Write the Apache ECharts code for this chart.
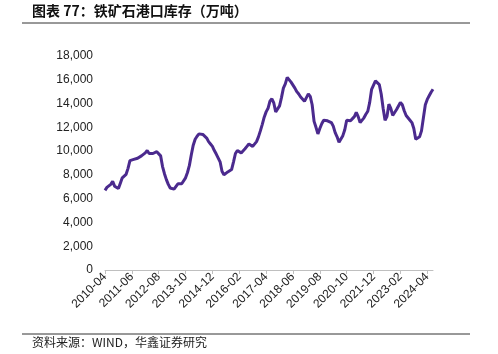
<!DOCTYPE html>
<html>
<head>
<meta charset="utf-8">
<script src="https://cdn.jsdelivr.net/npm/echarts@6/dist/echarts.min.js"></script>
<style>
  html, body { margin: 0; padding: 0; background: #fff; }
  #chart { width: 498px; height: 354px; }
</style>
</head>
<body>
<div id="chart"></div>
<script>
// monthly port stock of iron ore, 2010-04 .. 2024-07 (万吨)
const startYear = 2010
const startMonth = 4
const stock = [
  6700, 6950, 7050, 7200, 7450, 7050, 7150, 6850, 7300, 7750,
  7850, 8050, 8550, 9200, 9350, 9300, 9450, 9400, 9250, 9600,
  9700, 9850, 10050, 9800, 9700, 9800, 9900, 9950, 9830, 9600,
  8700, 8100, 7600, 7200, 6900, 6750, 6800, 6950, 7250, 7300,
  7250, 7400, 7750, 8200, 8800, 9700, 10500, 11000, 11250, 11450,
  11600, 11400, 11450, 11100, 10800, 10600, 10400, 10050, 9750, 9650,
  9100, 8300, 8000, 8150, 8250, 8200, 8450, 9100, 9800, 10050,
  9900, 9850, 9950, 10200, 10400, 10600, 10500, 10400, 10350, 10800,
  11200, 11700, 12250, 12850, 13300, 13600, 14200, 14400, 14050, 13300,
  13450, 13800, 14500, 15300, 15650, 16200, 16100, 15800, 15900, 15300,
  15000, 14800, 14550, 14400, 14200, 14500, 14800, 14600, 13900, 12500,
  12000, 11450, 11900, 12300, 12600, 12700, 12550, 12600, 12400, 12100,
  11550, 11200, 10750, 10900, 11300, 11800, 12600, 12650, 12550, 12650,
  12900, 13250, 12900, 12400, 12250, 12800, 13100, 13350, 14100, 15200,
  15550, 15900, 16000, 15600, 14800, 13600, 12600, 12900, 13950, 13600,
  13000, 13100, 13500, 13800, 14100, 13900, 13400, 13000, 12850, 12600,
  12400, 11900, 11000, 10950, 11200, 11700, 12800, 13900, 14350, 14650,
  14950, 15200
]
const labelStep = 14
const yTicks = [0, 2000, 4000, 6000, 8000, 10000, 12000, 14000, 16000, 18000]

const months = stock.map((_, i) => {
  const t = (startMonth - 1) + i
  const y = startYear + Math.floor(t / 12)
  const m = (t % 12) + 1
  return y + '-' + String(m).padStart(2, '0')
})

const chart = echarts.init(document.getElementById('chart'))

chart.setOption({
  animation: false,
  grid: { left: 105, right: 65, top: 56, bottom: 84 },
  xAxis: {
    type: 'category',
    data: months,
    boundaryGap: false,
    axisLine: { lineStyle: { color: '#bfbfbf', width: 1 } },
    axisTick: { interval: labelStep - 1, length: 4, lineStyle: { color: '#bfbfbf' } },
    axisLabel: {
      interval: labelStep - 1,
      rotate: 45,
      margin: 5,
      color: '#222',
      fontSize: 12,
      fontFamily: 'Liberation Sans'
    },
    splitLine: { show: false }
  },
  yAxis: {
    type: 'value',
    min: yTicks[0],
    max: yTicks[yTicks.length - 1],
    interval: 2000,
    axisLine: { show: false },
    axisTick: { show: false },
    splitLine: { show: false },
    axisLabel: {
      margin: 12,
      color: '#222',
      fontSize: 12,
      fontFamily: 'Liberation Sans',
      formatter: v => v.toLocaleString('en-US')
    }
  },
  series: [{
    type: 'line',
    data: stock,
    showSymbol: false,
    smooth: false,
    lineStyle: { color: '#4b2a8e', width: 3 },
    itemStyle: { color: '#4b2a8e' }
  }],
  graphic: [
    {
      type: 'text', left: 32, top: 4,
      style: {
        text: '图表 77：铁矿石港口库存（万吨）',
        font: 'bold 14px "Noto Sans CJK SC"',
        fill: '#111'
      }
    },
    {
      type: 'line', shape: { x1: 22, y1: 23, x2: 470, y2: 23 },
      style: { stroke: '#333', lineWidth: 1 }
    },
    {
      type: 'line', shape: { x1: 22, y1: 334, x2: 470, y2: 334 },
      style: { stroke: '#333', lineWidth: 1 }
    },
    {
      type: 'text', left: 32, top: 336,
      style: {
        text: '资料来源：WIND，华鑫证券研究',
        font: '12px "Noto Sans CJK SC"',
        fill: '#222'
      }
    }
  ]
})
</script>
</body>
</html>
